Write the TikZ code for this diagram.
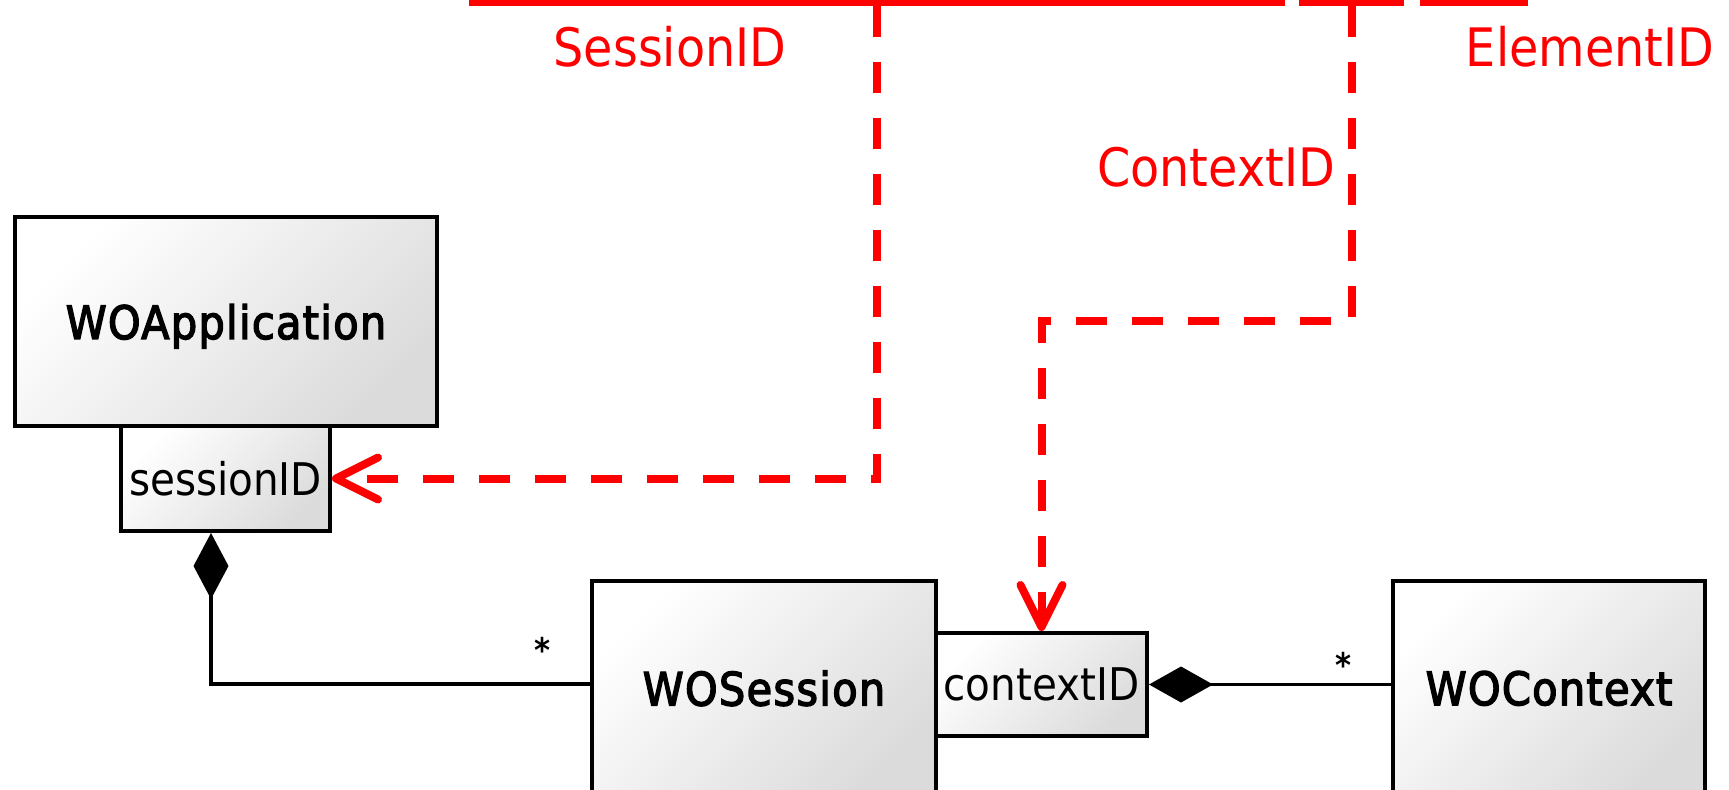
\documentclass[tikz,border=0pt]{standalone}
\usepackage{fontspec}
\setmainfont{DejaVu Sans Condensed}
\newfontfamily\classfont[FakeBold=3, LetterSpace=3]{DejaVu Sans Condensed}
\usetikzlibrary{arrows.meta}
\definecolor{refred}{RGB}{255,0,0}
\tikzset{
  umlclass/.style={draw=black, line width=2pt, rectangle, inner sep=0pt,
    shading=axis, top color=white, bottom color=gray!28, shading angle=45,
    font=\classfont\fontsize{23}{27}\selectfont, text depth=0pt},
  attrbox/.style={umlclass, font=\fontsize{22.5}{27}\selectfont},
  idbox/.style={draw=refred, line width=4pt, rectangle, inner sep=0pt, fill=white},
  idlabel/.style={text=refred, font=\fontsize{26.5}{31}\selectfont, inner sep=0pt},
  idref/.style={draw=refred, line width=4pt, line join=miter,
    dash pattern=on 15.5pt off 12.5pt,
    -{Straight Barb[length=21pt, width=21pt, line cap=round, line join=round]}},
  composition/.style={draw=black, line width=1.75pt},
  mult/.style={font=\fontsize{17}{19}\selectfont\bfseries, inner sep=0pt}
}
\begin{document}
\begin{tikzpicture}[x=0.5pt, y=-0.5pt]
\useasboundingbox (0,0) rectangle (1729,789);

% identifier fields of the request URL
\node[idbox, minimum width=404pt, minimum height=31pt] (urlsession) at (877,-29) {};
\node[idbox, minimum width=48.5pt, minimum height=31pt] (urlcontext) at (1351.5,-29) {};
\node[idbox, minimum width=50pt, minimum height=31pt] (urlelement) at (1474,-29) {};

\node[idlabel] (lblsession) at (670,47) {SessionID};
\node[idlabel] (lblelement) at (1590,47) {ElementID};
\node[idlabel] (lblcontext) at (1216,167) {ContextID};

% classes
\node[umlclass, minimum width=211pt, minimum height=104.5pt] (app) at (226,321.5) {WOApplication};
\node[attrbox, minimum width=104.5pt, minimum height=52.5pt] (sessid) at (225.5,478.5) {sessionID};
\node[umlclass, minimum width=172pt, minimum height=107pt] (session) at (764,688) {WOSession};
\node[attrbox, minimum width=105.5pt, minimum height=51.5pt] (ctxid) at (1041.5,684.5) {contextID};
\node[umlclass, minimum width=156pt, minimum height=107pt] (context) at (1549,688) {WOContext};

% compositions
\draw[composition, -{Diamond[length=33pt, width=17.5pt]}]
  ([yshift=2pt]session.west) -| ([xshift=-7.25pt]sessid.south);
\draw[composition, {Diamond[length=32pt, width=18pt]}-]
  (ctxid.east) -- (ctxid.east -| context.west);
\node[mult] (multsession) at (542,650) {*};
\node[mult] (multcontext) at (1343,665) {*};

% identifier references
\draw[idref] (urlsession.south) |- (sessid.east);
\draw[idref] (urlcontext.south) -- ++(0,315) -| (ctxid.north);
\end{tikzpicture}
\end{document}
